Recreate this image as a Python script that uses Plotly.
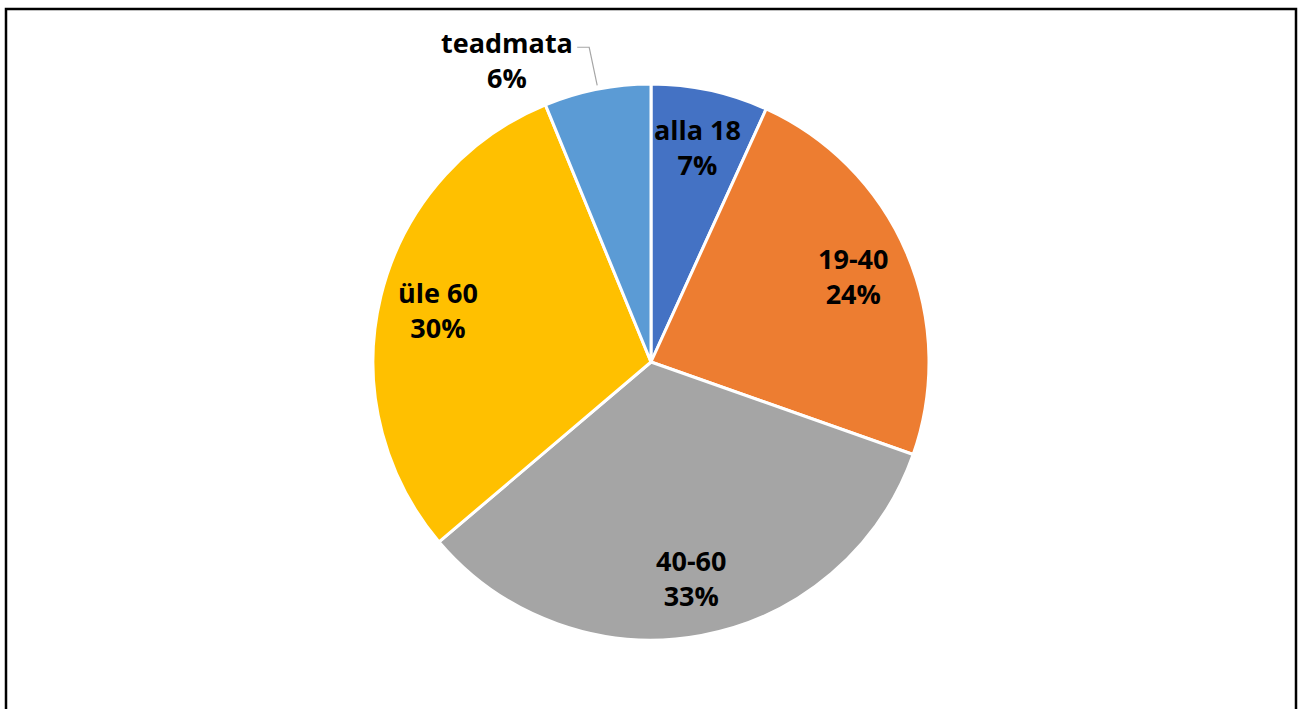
import math

import plotly.graph_objects as go

labels = ["alla 18", "19-40", "40-60", "üle 60", "teadmata"]
values = [6.8, 23.6, 33.4, 30.0, 6.2]  # shares
colors = ["#4472C4", "#ED7D31", "#A5A5A5", "#FFC000", "#5B9BD5"]

W, H = 1304, 709
cx, cy, R = 651, 362, 278  # pie centre and radius in pixels


def to_paper(px, py):
    return px / W, 1 - py / H


fig = go.Figure(
    go.Pie(
        labels=labels,
        values=values,
        sort=False,
        direction="clockwise",
        rotation=0,
        marker=dict(colors=colors, line=dict(color="white", width=3)),
        textinfo="none",
        hoverinfo="label+percent",
        domain=dict(
            x=[(cx - R) / W, (cx + R) / W],
            y=[(H - cy - R) / H, (H - cy + R) / H],
        ),
    )
)

# Data labels along each slice's middle angle, like the Excel chart
total = sum(values)
start = 0.0
font = dict(family="Open Sans", size=27, color="black", weight="bold")
for lab, val in zip(labels, values):
    frac = val / total
    mid = (start + frac / 2) * 2 * math.pi
    start += frac
    text = f"{lab}<br>{round(frac * 100)}%"
    if lab == "teadmata":
        # outside label, with an elbow leader line to the slice edge
        px = cx + R * math.sin(mid)
        py = cy - R * math.cos(mid)
        x0, y0 = to_paper(px - 20, py - 42)
        x1, y1 = to_paper(px - 8, py - 42)
        x2, y2 = to_paper(px, py - 4)
        fig.add_shape(
            type="path", xref="paper", yref="paper",
            path=f"M {x0} {y0} L {x1} {y1} L {x2} {y2}",
            line=dict(color="#A6A6A6", width=1.2),
        )
        lx, ly = to_paper(px - 90, py - 29)
        fig.add_annotation(
            x=lx, y=ly, xref="paper", yref="paper",
            xanchor="center", yanchor="middle",
            text=text, font=font, showarrow=False,
        )
        continue
    rr = 0.79 * R
    lx, ly = to_paper(cx + rr * math.sin(mid), cy - rr * math.cos(mid))
    fig.add_annotation(
        x=lx, y=ly, xref="paper", yref="paper",
        xanchor="center", yanchor="middle",
        text=text, font=font, showarrow=False,
    )

# chart-area border
fig.add_shape(
    type="rect", xref="paper", yref="paper",
    x0=6 / W, x1=1296 / W, y0=-0.05, y1=1 - 9 / H,
    line=dict(color="black", width=2.5),
)

fig.update_layout(
    width=W,
    height=H,
    margin=dict(l=0, r=0, t=0, b=0),
    showlegend=False,
    paper_bgcolor="white",
    plot_bgcolor="white",
)

fig.write_html(
    "out.html",
    config={"displayModeBar": False},
    post_script="document.body.style.margin='0';",
)
